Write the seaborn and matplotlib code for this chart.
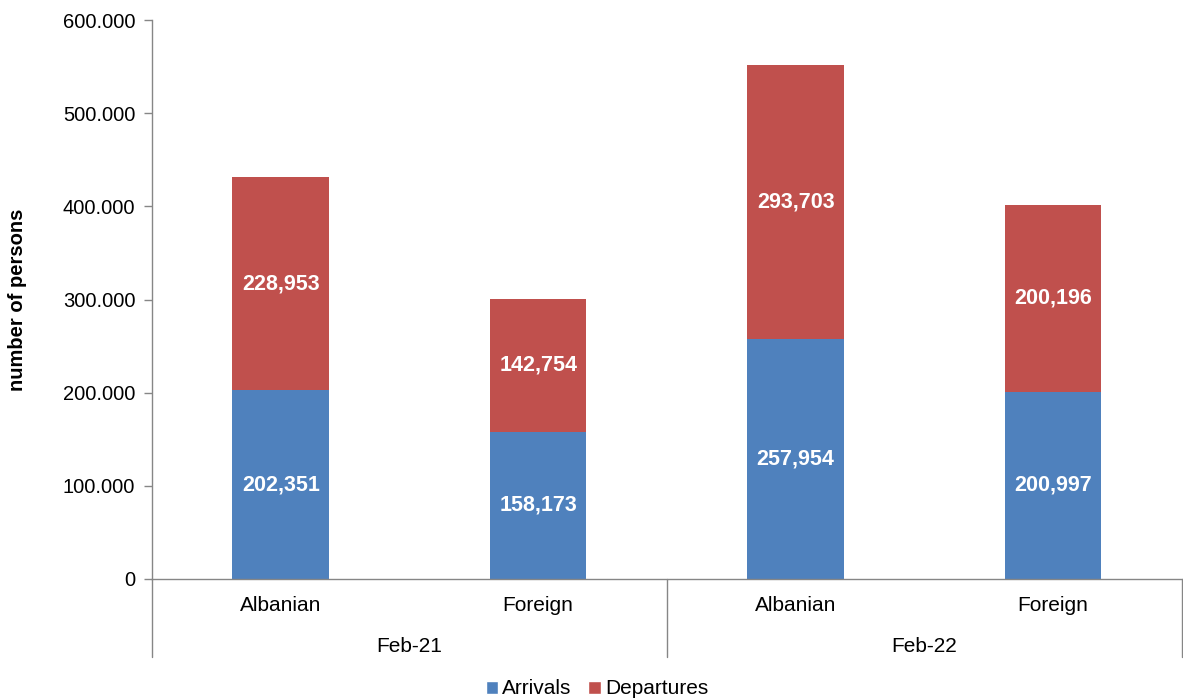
import matplotlib
matplotlib.use("Agg")
import matplotlib.pyplot as plt
import matplotlib.transforms as mtransforms
from matplotlib.patches import Patch
import numpy as np
import pandas as pd
import seaborn as sns

# ---------------------------------------------------------------------------
# Data
# ---------------------------------------------------------------------------
periods = ["Feb-21", "Feb-21", "Feb-22", "Feb-22"]
citizenship = ["Albanian", "Foreign", "Albanian", "Foreign"]
arrivals = [202351, 158173, 257954, 200997]
departures = [228953, 142754, 293703, 200196]
y_ticks = [0, 100000, 200000, 300000, 400000, 500000, 600000]

BLUE = "#4F81BD"
RED = "#C0504D"

sns.set_theme(style="white")
plt.rcParams["font.family"] = ["Liberation Sans", "DejaVu Sans"]
plt.rcParams["text.color"] = "black"
plt.rcParams["axes.labelcolor"] = "black"
plt.rcParams["ytick.color"] = "black"

df = pd.DataFrame({
    "key": [f"{p}|{c}" for p, c in zip(periods, citizenship)],
    "arrivals": arrivals,
    "departures": departures,
})
df["total"] = df["arrivals"] + df["departures"]

fig = plt.figure(figsize=(11.83, 7.0), dpi=100)
ax = fig.add_axes([152 / 1183, 1 - 579 / 700, 1 - 152 / 1183 - 0.001, (579 - 20) / 700])

sns.barplot(data=df, x="key", y="total", color=RED, width=0.375,
            saturation=1, ax=ax, linewidth=0)
sns.barplot(data=df, x="key", y="arrivals", color=BLUE, width=0.375,
            saturation=1, ax=ax, linewidth=0)

# value labels
for i, row in df.iterrows():
    ax.text(i, row["arrivals"] / 2, f"{row['arrivals']:,}", ha="center", va="center",
            color="white", fontsize=15.5, fontweight="bold")
    ax.text(i, row["arrivals"] + row["departures"] / 2, f"{row['departures']:,}",
            ha="center", va="center", color="white", fontsize=15.5, fontweight="bold")

ax.set_ylim(0, 600000)
ax.set_xlim(-0.5, 3.5)
ax.set_yticks(y_ticks)
ax.set_yticklabels([f"{v:,}".replace(",", ".") for v in y_ticks], fontsize=14.5)
ax.tick_params(axis="y", which="both", left=True, length=6, width=1,
               color="#868686", labelcolor="black", pad=6)
ax.set_xticks([])
ax.set_xlabel("")
ax.set_ylabel("number of persons", fontsize=14.5, fontweight="bold")
ax.yaxis.set_label_coords(-(152 - 27) / (1183 - 152), 0.5)

for side in ["top", "right"]:
    ax.spines[side].set_visible(False)
for side in ["left", "bottom"]:
    ax.spines[side].set_color("#868686")
    ax.spines[side].set_linewidth(1)

# two-level category axis
trans = mtransforms.blended_transform_factory(ax.transData, ax.transAxes)
for i, c in enumerate(citizenship):
    ax.text(i, -0.047, c, transform=trans, ha="center", va="center", fontsize=15)
group_names = ["Feb-21", "Feb-22"]
for g, name in enumerate(group_names):
    ax.text(2 * g + 0.5, -0.12, name, transform=trans, ha="center", va="center", fontsize=15)
for xb in [-0.5, 1.5, 3.5]:
    ax.plot([xb, xb], [0, -0.14], transform=trans, color="#868686", lw=1, clip_on=False)

handles = [Patch(facecolor=BLUE, label="Arrivals"), Patch(facecolor=RED, label="Departures")]
fig.legend(handles=handles, loc="center", bbox_to_anchor=(597 / 1183, 1 - 689 / 700),
           ncol=2, frameon=False, fontsize=15, handlelength=0.6, handleheight=0.6,
           handletextpad=0.2, columnspacing=0.8)

fig.savefig("out.png", dpi=100)
